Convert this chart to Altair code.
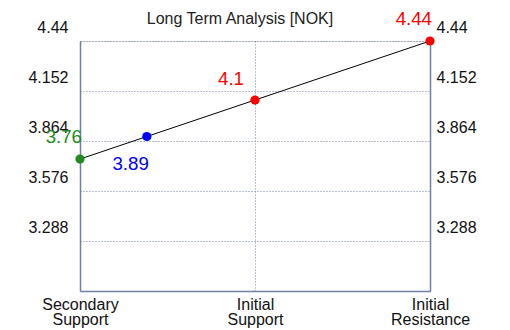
import altair as alt
import pandas as pd

# ---- data ----
level_names = ["Secondary Support", "Blue", "Initial Support", "Initial Resistance"]
level_x = [0.0, 0.382, 1.0, 2.0]
level_values = [3.76, 3.89, 4.1, 4.44]
level_labels = ["3.76", "3.89", "4.1", "4.44"]
level_colors = ["#228b22", "#0000ff", "#ff0000", "#ff0000"]

x_ticks = [0, 1, 2]
x_tick_labels = [["Secondary", "Support"], ["Initial", "Support"], ["Initial", "Resistance"]]
y_ticks = [3.288, 3.576, 3.864, 4.152, 4.44]
y_domain = [3.0, 4.44]
title_text = "Long Term Analysis [NOK]"

FONT = "Liberation Sans"
GRID = "#6f80a3"

df = pd.DataFrame({
    "name": level_names,
    "x": level_x,
    "v": level_values,
    "lab": level_labels,
    "col": level_colors,
})

label_expr = " : ".join(
    f"datum.value == {t} ? {repr(l)}" for t, l in zip(x_ticks[:-1], x_tick_labels[:-1])
) + f" : {repr(x_tick_labels[-1])}"

xscale = alt.Scale(domain=[0, 2], nice=False, zero=False)
yscale = alt.Scale(domain=y_domain, nice=False, zero=False)

x_axis = alt.Axis(
    values=x_ticks, labelExpr=label_expr, title=None, orient="bottom",
    grid=True, gridDash=[1, 2], gridColor=GRID, gridOpacity=1,
    domainColor=GRID, domainWidth=1.5, ticks=False,
    labelFont=FONT, labelFontSize=16, labelColor="#111",
    labelPadding=5, labelLineHeight=15, labelAlign="center",
)

base = alt.Chart(df)

line = base.mark_line(color="black", strokeWidth=1).encode(
    x=alt.X("x:Q", scale=xscale, axis=x_axis),
    y=alt.Y("v:Q", scale=yscale, axis=alt.Axis(
        values=y_ticks, format=".3~f", title=None, orient="left",
        grid=True, gridDash=[1, 2], gridColor=GRID, gridOpacity=1,
        domainColor=GRID, domainWidth=1.5, ticks=False,
        labelFont=FONT, labelFontSize=16, labelColor="#111",
        labelPadding=12, labelOffset=-14,
    )),
    order="x:Q",
)

points = base.mark_circle(size=85, opacity=1).encode(
    x=alt.X("x:Q", scale=xscale),
    y=alt.Y("v:Q", scale=yscale),
    color=alt.Color("col:N", scale=None),
)

offsets = {0: (2, -12), 1: (2, 38), 2: (-11, -11), 3: (2, -12)}
texts = []
for i, (dx, dy) in offsets.items():
    texts.append(
        base.transform_filter(alt.datum.name == level_names[i]).mark_text(
            align="right", baseline="bottom", dx=dx, dy=dy,
            font=FONT, fontSize=18.7,
        ).encode(
            x=alt.X("x:Q", scale=xscale),
            y=alt.Y("v:Q", scale=yscale),
            text="lab:N",
            color=alt.Color("col:N", scale=None),
        )
    )

main = alt.layer(line, points, *texts)

right = base.mark_point(opacity=0).encode(
    x=alt.X("x:Q", scale=xscale),
    y=alt.Y("v:Q", scale=yscale, axis=alt.Axis(
        values=y_ticks, format=".3~f", title=None, orient="right",
        grid=False, domainColor=GRID, domainWidth=1.5, ticks=False,
        labelFont=FONT, labelFontSize=16, labelColor="#111",
        labelPadding=6, labelOffset=-14,
    )),
)

chart = alt.layer(main, right).resolve_scale(y="independent").properties(
    width=350, height=250,
    title=alt.TitleParams(title_text, font=FONT, fontSize=16, fontWeight="normal",
                          color="#222", anchor="middle", offset=-17, dx=-15),
    autosize=alt.AutoSizeParams(type="none"),
    padding={"left": 72, "top": 33, "right": 72, "bottom": 39},
).configure_view(stroke=None).configure(background="white")

chart.save("out.html", embed_options={"renderer": "svg", "actions": False})
